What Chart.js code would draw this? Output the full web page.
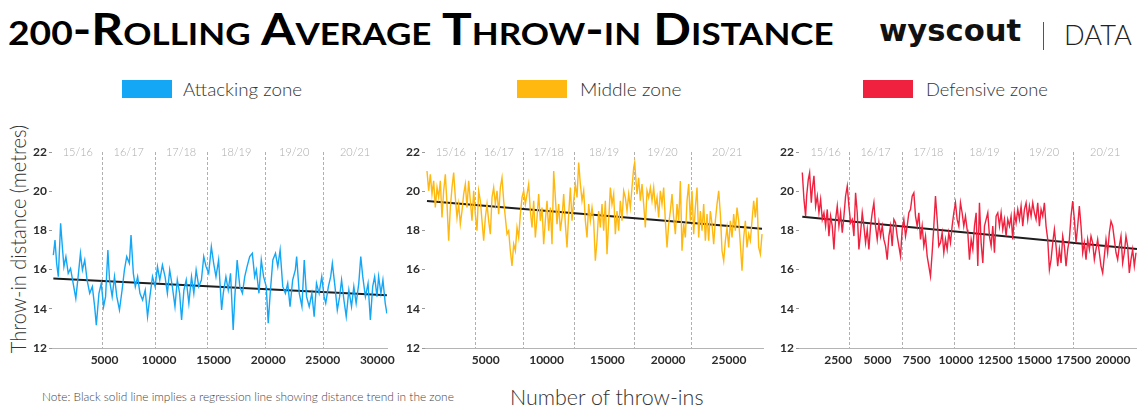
<!DOCTYPE html>
<html>
<head>
<meta charset="utf-8">
<script src="https://cdn.jsdelivr.net/npm/chart.js@4.4.0/dist/chart.umd.min.js"></script>
<style>
  body { margin: 0; width: 1137px; height: 408px; overflow: hidden; background: #fff; position: relative; font-family: Lato, sans-serif; color: #333; }
  .abs { position: absolute; white-space: nowrap; transform-origin: 0 50%; }
  .panel { position: absolute; top: 120px; height: 250px; }
  .key { position: absolute; top: 80px; width: 50px; height: 18px; }
  .lab { position: absolute; top: 80px; line-height: 18px; font-size: 18px; font-weight: 300; color: #333; white-space: nowrap; transform-origin: 0 50%; }
</style>
</head>
<body>
<div id="title" class="abs" style="left:8px;top:6px;font:700 44px/1 Lato;font-variant:small-caps;color:#000"><span style="font-size:33px">200</span>-Rolling Average Throw-in Distance</div>
<div id="logo" class="abs" style="left:879px;top:16px;font:bold 30px/1 'DejaVu Sans';color:#111">wyscout</div>
<div style="position:absolute;left:1043px;top:22px;width:1px;height:28px;background:#555"></div>
<div id="data" class="abs" style="left:1064px;top:20px;font:300 28px/1 Lato;color:#222">DATA</div>

<div class="key" style="left:122px;background:#14a7f5"></div>
<div id="l1" class="lab" style="left:183px">Attacking zone</div>
<div class="key" style="left:517px;background:#ffb80f"></div>
<div id="l2" class="lab" style="left:580px">Middle zone</div>
<div class="key" style="left:863px;background:#f0213f"></div>
<div id="l3" class="lab" style="left:926px">Defensive zone</div>

<div id="ytitle" style="position:absolute;left:17.5px;top:239px;font:300 22px/1 Lato;white-space:nowrap;color:#333">Throw-in distance (metres)</div>

<div class="panel" style="left:0;width:400px"><canvas id="c1"></canvas></div>
<div class="panel" style="left:373px;width:400px"><canvas id="c2"></canvas></div>
<div class="panel" style="left:747px;width:390px"><canvas id="c3"></canvas></div>

<div id="note" class="abs" style="left:42px;top:390px;font:300 11px/14px Lato;color:#444">Note: Black solid line implies a regression line showing distance trend in the zone</div>
<div id="xtitle" class="abs" style="left:510px;top:386px;font:300 21px/1 Lato;color:#333">Number of throw-ins</div>

<script>
// ---- data ----
const seasons = ["15/16", "16/17", "17/18", "18/19", "19/20", "20/21"];

const attackX = [303,455,606,758,970,1151,1273,1454,1667,1879,2121,2363,2576,2788,2969,3182,3394,3636,3878,4091,4242,4484,4697,4909,5090,5303,5454,5696,5909,6121,6363,6605,6818,7030,7272,7424,7636,7817,8030,8242,8484,8726,8939,9151,9393,9635,9848,10060,10302,10544,10757,10969,11211,11453,11666,11878,12059,12272,12484,12726,12968,13181,13393,13635,13877,14090,14302,14544,14786,14999,15211,15453,
  15728,15879,16121,16334,16546,16788,16940,17152,17394,17636,17849,18061,18303,18545,18757,18909,19151,19364,19576,19818,20000,20182,20424,20666,20879,21091,21333,21575,21788,22000,22242,22485,22606,22848,23090,23303,23515,23757,24000,24212,24424,24666,24908,25121,25272,25515,25727,25878,26121,26333,26545,26726,26939,27151,27393,27635,27848,28060,28302,28484,28666,28909,29151,29363,29575,29757,29969,30120,30333,30515,30727,30878];
const attackY = [16.74,17.51,16.32,15.64,18.36,17.00,16.15,16.66,15.81,16.06,15.30,14.53,15.64,16.83,15.98,16.49,15.47,14.79,15.13,14.11,13.17,14.79,15.30,14.11,14.62,17.00,15.47,14.62,15.64,14.62,13.94,14.96,15.98,16.66,16.32,17.76,15.81,15.13,15.64,14.79,14.45,14.96,13.60,14.62,15.64,15.13,16.15,15.47,16.23,15.64,14.79,15.98,15.13,14.11,15.47,14.79,13.43,14.96,15.47,14.28,15.64,14.79,15.98,15.13,15.47,16.66,16.15,15.81,17.17,16.32,15.64,16.49,
  13.94,14.79,15.64,14.96,15.81,12.92,14.62,16.49,15.13,14.79,15.64,16.15,16.66,16.83,15.64,15.98,14.79,16.49,15.64,15.13,13.26,14.79,16.49,16.83,16.15,17.00,15.13,14.79,15.30,14.11,15.47,15.98,16.66,14.79,14.11,16.49,14.62,14.11,14.79,13.60,15.30,14.79,15.64,14.62,14.28,15.13,15.64,16.32,15.13,13.94,14.62,15.47,14.45,13.60,14.96,14.11,15.13,14.28,15.30,16.66,15.64,14.62,15.30,13.43,15.13,15.64,14.62,15.64,14.79,15.47,14.28,13.77];

const middleX = [164,301,439,576,713,850,987,1124,1261,1398,1535,1672,1810,1947,2084,2221,2358,2495,2632,2769,2906,3043,3181,3318,3455,3592,3729,3866,4003,4140,4277,4414,4552,4689,4826,4963,5100,5237,5374,5511,5648,5785,5923,6060,6197,6334,6471,6608,6745,6882,7019,7156,7294,7431,7568,7705,7842,7979,8116,8253,8390,8527,8665,8802,8939,9076,9213,9350,9487,9624,9761,9898,10036,10173,10310,10447,10584,10721,10858,10995,11132,11269,11407,11544,11681,11818,11955,12092,12229,12366,12503,12640,12778,12915,13052,13189,13326,13463,13600,13737,
  13873,14010,14147,14284,14422,14559,14696,14833,14970,15107,15244,15381,15518,15655,15793,15930,16067,16204,16341,16478,16615,16752,16889,17026,17164,17246,17355,17438,17575,17712,17849,17986,18123,18260,18397,18535,18672,18809,18946,19083,19220,19357,19494,19631,19768,19906,20043,20180,20317,20454,20591,20728,20865,21002,21139,21277,21414,21551,21688,21825,21962,22099,22236,22373,22510,22648,22785,22922,23059,23196,23333,23470,23607,23744,23881,24018,24156,24293,24430,24567,24704,24841,24978,25115,25252,25389,25526,25663,25800,25937,26075,26212,26349,26486,26623,26760,26897,27034,27171,27309,27446,27583,27720];
const middleY = [21.03,20.02,20.86,19.85,20.53,19.17,20.19,19.68,20.53,18.66,20.02,20.86,19.34,17.47,19.17,20.19,20.95,19.68,18.66,19.34,18.32,18.99,19.85,20.36,19.17,20.53,19.51,18.49,20.02,18.83,17.98,20.02,19.51,18.49,17.47,18.66,19.34,18.49,17.81,19.68,20.19,19.34,20.02,18.83,20.19,20.69,19.51,18.66,17.81,17.98,16.96,16.19,17.30,16.96,18.15,17.64,18.83,19.68,20.02,19.34,19.85,20.36,18.99,18.15,19.51,17.64,18.66,19.85,18.49,19.17,17.30,18.49,19.51,17.98,19.17,17.30,21.03,19.68,18.32,19.34,17.98,18.66,19.85,18.32,17.13,18.83,20.19,18.49,19.51,20.36,19.68,21.46,20.36,19.51,20.02,18.49,17.64,19.34,18.49,19.17,
  18.49,16.45,17.47,18.99,18.15,19.34,17.98,19.51,16.79,18.49,20.19,19.34,19.85,17.81,18.99,17.98,19.51,18.49,20.02,19.68,18.99,19.85,19.17,20.19,21.20,21.46,20.52,19.85,20.69,19.51,20.36,19.34,18.15,20.02,19.68,20.19,19.51,20.19,19.17,19.68,18.66,20.02,19.34,20.19,18.49,17.13,18.32,18.99,19.85,18.66,17.81,19.34,18.49,20.52,16.96,18.32,17.64,19.51,20.36,18.49,20.02,17.81,19.17,20.19,17.64,18.99,17.98,19.34,17.47,18.83,17.47,18.99,18.32,17.30,18.49,19.34,20.02,18.83,16.96,16.45,17.47,18.15,17.13,18.49,17.64,18.83,17.98,19.17,18.49,17.30,15.94,17.64,18.49,17.13,17.81,17.47,18.49,19.51,18.66,19.68,17.13,16.79,17.81];

const defenceX = [210,316,422,486,592,677,783,846,953,1059,1165,1271,1377,1483,1589,1695,1801,1907,2013,2119,2225,2331,2437,2543,2649,2755,2861,2967,3074,3180,3286,3392,3498,3604,3710,3816,3922,4028,4134,4240,4346,4452,4558,4664,4770,4876,4982,5088,5195,5301,5407,5513,5619,5725,5831,5937,6043,6149,6255,6361,6467,6573,6679,6785,6891,6997,7103,7209,7316,7422,7528,7634,7740,7846,7952,8058,8164,8270,8376,8482,8588,8694,8800,8906,9012,9118,9224,9330,9437,9543,9649,9755,9861,9967,10073,10179,10285,10391,10497,10603,10709,
  10753,10859,10965,11071,11177,11283,11389,11495,11601,11708,11814,11920,12026,12132,12238,12344,12450,12556,12662,12768,12874,12980,13086,13192,13298,13404,13510,13616,13722,13829,13935,14041,14147,14253,14359,14465,14571,14677,14783,14889,14995,15101,15207,15313,15419,15525,15631,15737,15843,15950,16056,16162,16268,16374,16480,16586,16692,16798,16904,17010,17116,17222,17328,17434,17540,17646,17752,17858,17964,18071,18177,18283,18389,18495,18601,18707,18813,18919,19025,19131,19237,19343,19449,19555,19661,19767,19874,19980,20086,20192,20298,20404,20510,20616,20722,20828,20934,21040,21146,21253,21359,21465];
const defenceY = [20.95,19.58,18.73,19.75,20.60,20.95,19.41,20.09,20.78,19.24,19.75,18.90,19.58,18.56,18.90,18.22,19.07,17.71,18.73,18.22,17.03,18.56,19.24,18.22,18.90,17.88,18.73,19.75,20.26,19.24,18.39,18.56,17.71,19.92,18.90,17.03,17.88,18.90,18.22,17.37,18.05,17.03,18.22,18.90,19.41,18.22,17.54,18.39,17.71,18.22,17.54,17.20,16.51,17.71,18.22,17.20,18.56,18.39,17.71,17.20,16.69,18.05,18.56,17.71,18.22,18.90,19.07,19.75,19.92,18.73,18.22,18.90,17.54,18.22,17.20,17.71,16.69,16.18,15.66,16.86,18.22,19.75,18.56,17.20,17.37,17.88,16.86,17.54,17.03,17.88,17.37,18.22,18.90,19.41,18.56,18.22,19.41,18.90,18.22,18.73,18.05,
  17.88,16.51,17.54,17.03,18.22,18.90,16.18,19.41,17.37,16.34,18.22,18.56,18.90,17.71,17.20,18.22,16.86,18.73,18.90,18.22,18.90,18.05,18.56,17.71,18.56,18.22,18.73,17.54,18.90,18.39,19.07,18.56,19.24,18.22,19.07,19.41,18.56,19.24,18.73,19.41,18.90,18.56,19.41,18.22,19.07,18.73,19.41,18.22,17.54,16.00,16.51,17.37,18.05,17.20,16.18,17.03,16.34,17.71,17.20,16.18,17.03,17.54,18.73,19.50,18.56,17.37,18.22,19.24,18.22,16.86,17.37,16.51,17.54,17.03,17.71,17.37,16.51,17.03,17.54,16.86,16.18,15.83,16.69,17.54,16.86,17.88,18.47,18.22,17.54,16.86,16.51,17.20,17.71,16.34,16.86,17.71,17.20,15.83,16.51,17.03,16.18,16.86];

// regression lines (start / end)
const attackTrendX = [303, 30878];
const attackTrendY = [15.55, 14.69];
const middleTrendX = [164, 27720];
const middleTrendY = [19.50, 18.08];
const defenceTrendX = [210, 21530];
const defenceTrendY = [18.70, 17.05];

// season boundaries (throw-in count)
const attackCuts = [4790, 9640, 14380, 19750, 25020];
const middleCuts = [4085, 8061, 12284, 17164, 21907];
const defenceCuts = [3180, 6573, 9903, 13722, 17477];

const attackTicks = [5000, 10000, 15000, 20000, 25000, 30000];
const middleTicks = [5000, 10000, 15000, 20000, 25000];
const defenceTicks = [2500, 5000, 7500, 10000, 12500, 15000, 17500, 20000];

// ---- text fitting ----
function fit(id, w) {
  const el = document.getElementById(id);
  el.style.transform = "scaleX(" + (w / el.offsetWidth) + ")";
}
fit("title", 826);
fit("logo", 142);
fit("data", 68);
fit("l1", 119);
fit("l2", 101);
fit("l3", 122);
fit("note", 412);
fit("xtitle", 193);
const yt = document.getElementById("ytitle");
yt.style.transform = "translate(-50%,-50%) rotate(-90deg) scaleX(" + (228 / yt.offsetWidth) + ")";

// season dividers + labels
const seasonPlugin = {
  id: "seasons",
  beforeDatasetsDraw(chart, args, opts) {
    const { ctx, chartArea } = chart;
    const x = chart.scales.x;
    ctx.save();
    ctx.strokeStyle = "#b0b0b0";
    ctx.lineWidth = 1;
    ctx.setLineDash([3, 2]);
    opts.cuts.forEach((c) => {
      const px = Math.round(x.getPixelForValue(c)) + 0.5;
      ctx.beginPath();
      ctx.moveTo(px, chartArea.top);
      ctx.lineTo(px, chartArea.bottom);
      ctx.stroke();
    });
    ctx.setLineDash([]);
    ctx.fillStyle = "#ababab";
    ctx.font = "300 11px Lato";
    ctx.textAlign = "center";
    ctx.textBaseline = "middle";
    const edges = [opts.start, ...opts.cuts, x.max];
    seasons.forEach((s, i) => {
      ctx.fillText(s, x.getPixelForValue((edges[i] + edges[i + 1]) / 2), chartArea.top);
    });
    ctx.restore();
  },
};

const tickFont = { family: "Lato", size: 12, weight: "bold" };

function makePanel(id, xs, ys, color, tx, ty, min, max, ticks, cuts, padRight) {
  new Chart(document.getElementById(id), {
    type: "line",
    data: {
      datasets: [
        {
          data: xs.map((x, i) => ({ x: x, y: ys[i] })),
          borderColor: color,
          borderWidth: 1.4,
          pointRadius: 0,
          tension: 0,
        },
        {
          data: tx.map((x, i) => ({ x: x, y: ty[i] })),
          borderColor: "#1e1e1e",
          borderWidth: 2,
          pointRadius: 0,
        },
      ],
    },
    options: {
      animation: false,
      responsive: true,
      maintainAspectRatio: false,
      layout: { padding: { top: 32, right: padRight, left: 0, bottom: 0 } },
      plugins: {
        legend: { display: false },
        tooltip: { enabled: false },
        seasons: { cuts: cuts, start: xs[0] },
      },
      scales: {
        x: {
          type: "linear",
          min: min,
          max: max,
          afterBuildTicks: (s) => {
            s.ticks = ticks.map((v) => ({ value: v }));
          },
          afterFit: (s) => {
            s.height = 22;
          },
          ticks: {
            font: tickFont,
            color: "#2b2b2b",
            padding: 5,
            maxRotation: 0,
            autoSkip: false,
            callback: (v) => String(v),
          },
          grid: { display: false, drawTicks: false },
          border: { display: true, color: "#b4b4b4" },
        },
        y: {
          min: 12,
          max: 22,
          ticks: { stepSize: 2, font: tickFont, color: "#2b2b2b", padding: 2 },
          grid: { drawOnChartArea: false, drawTicks: true, tickLength: 3, color: "#999" },
          border: { display: false },
          afterFit: (s) => {
            s.width = 52;
          },
        },
      },
    },
    plugins: [seasonPlugin],
  });
}

makePanel("c1", attackX, attackY, "#14a7f5", attackTrendX, attackTrendY, 180, 30900, attackTicks, attackCuts, 10);
makePanel("c2", middleX, middleY, "#ffb80f", middleTrendX, middleTrendY, 0, 27800, middleTicks, middleCuts, 10);
makePanel("c3", defenceX, defenceY, "#f0213f", defenceTrendX, defenceTrendY, 0, 21530, defenceTicks, defenceCuts, 0);
</script>
</body>
</html>
